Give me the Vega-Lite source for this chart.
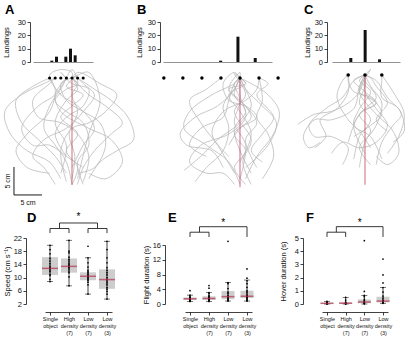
{
"$schema": "https://vega.github.io/schema/vega-lite/v6.json",
"padding": {"left": 2, "top": 4, "right": 0, "bottom": 0},
"background": "white",
"config": {
 "view": {"stroke": null},
 "font": "Liberation Sans",
 "axis": {"grid": false, "labelFont": "Liberation Sans", "titleFont": "Liberation Sans", "labelFontSize": 7.5, "titleFontSize": 7.5, "titleFontWeight": "normal", "labelColor": "#111", "titleColor": "#111", "domainColor": "#111", "tickColor": "#111", "tickSize": 3, "labelPadding": 1.5, "titlePadding": 3, "domainWidth": 0.8, "tickWidth": 0.8, "minExtent": 0, "labelOverlap": false, "labelFlush": false, "labelBound": false},
 "title": {"font": "Liberation Sans", "fontSize": 13, "fontWeight": "bold", "anchor": "start", "frame": "group", "color": "#000", "baseline": "alphabetic"}
},
"datasets": {
 "trajA": [
  {"t":"a1","x":0,"y":-19},{"t":"a1","x":-1,"y":-15},{"t":"a1","x":-3,"y":-12},{"t":"a1","x":-5,"y":-9},{"t":"a1","x":-4,"y":-5},{"t":"a1","x":-2,"y":-2},{"t":"a1","x":-1,"y":0},
  {"t":"a2","x":1,"y":-19},{"t":"a2","x":2,"y":-16},{"t":"a2","x":4,"y":-13},{"t":"a2","x":7,"y":-10},{"t":"a2","x":9,"y":-8},{"t":"a2","x":6,"y":-5},{"t":"a2","x":3,"y":-3},{"t":"a2","x":1,"y":-1},{"t":"a2","x":0,"y":0},
  {"t":"a3","x":-2,"y":-18},{"t":"a3","x":-4,"y":-15},{"t":"a3","x":-8,"y":-13},{"t":"a3","x":-11,"y":-10},{"t":"a3","x":-12,"y":-6},{"t":"a3","x":-9,"y":-3},{"t":"a3","x":-5,"y":-1},{"t":"a3","x":-3,"y":0},
  {"t":"a4","x":2,"y":-18.5},{"t":"a4","x":3,"y":-14},{"t":"a4","x":1,"y":-10},{"t":"a4","x":-2,"y":-8},{"t":"a4","x":-6,"y":-7},{"t":"a4","x":-7,"y":-4},{"t":"a4","x":-4,"y":-1},{"t":"a4","x":-3,"y":0},
  {"t":"a5","x":-1,"y":-17},{"t":"a5","x":-3,"y":-14},{"t":"a5","x":-6,"y":-11},{"t":"a5","x":-9,"y":-8},{"t":"a5","x":-10,"y":-4},{"t":"a5","x":-7,"y":-1.5},{"t":"a5","x":-4,"y":0},
  {"t":"a6","x":3,"y":-18},{"t":"a6","x":5,"y":-15},{"t":"a6","x":8,"y":-13},{"t":"a6","x":11,"y":-11},{"t":"a6","x":10,"y":-7},{"t":"a6","x":7,"y":-4},{"t":"a6","x":4,"y":-2},{"t":"a6","x":1,"y":0},
  {"t":"a7","x":0,"y":-18},{"t":"a7","x":0.5,"y":-14},{"t":"a7","x":-0.5,"y":-10},{"t":"a7","x":1,"y":-6},{"t":"a7","x":0,"y":-3},{"t":"a7","x":1,"y":-1},{"t":"a7","x":0,"y":0},
  {"t":"a8","x":-3,"y":-19},{"t":"a8","x":-5,"y":-16},{"t":"a8","x":-7,"y":-14},{"t":"a8","x":-5,"y":-11},{"t":"a8","x":-1,"y":-9},{"t":"a8","x":2,"y":-6},{"t":"a8","x":4,"y":-3},{"t":"a8","x":2,"y":-1},{"t":"a8","x":1,"y":0},
  {"t":"a9","x":1,"y":-17},{"t":"a9","x":4,"y":-16},{"t":"a9","x":6,"y":-12},{"t":"a9","x":5,"y":-8},{"t":"a9","x":2,"y":-6},{"t":"a9","x":-1,"y":-4},{"t":"a9","x":-2,"y":-1},{"t":"a9","x":0,"y":0},
  {"t":"a10","x":-1,"y":-18.5},{"t":"a10","x":-2,"y":-13},{"t":"a10","x":0,"y":-9},{"t":"a10","x":3,"y":-8},{"t":"a10","x":6,"y":-6},{"t":"a10","x":8,"y":-3},{"t":"a10","x":5,"y":-1},{"t":"a10","x":1,"y":1},{"t":"a10","x":0,"y":0},
  {"t":"a11","x":2,"y":-16},{"t":"a11","x":-1,"y":-14},{"t":"a11","x":-4,"y":-12},{"t":"a11","x":-7,"y":-12},{"t":"a11","x":-9,"y":-9},{"t":"a11","x":-6,"y":-5},{"t":"a11","x":-3,"y":-3},{"t":"a11","x":-1,"y":0},
  {"t":"a12","x":0,"y":-16},{"t":"a12","x":2,"y":-12},{"t":"a12","x":4,"y":-9},{"t":"a12","x":1,"y":-5},{"t":"a12","x":-2,"y":-3},{"t":"a12","x":-4,"y":0.5},{"t":"a12","x":-2,"y":1.5},{"t":"a12","x":0,"y":1},{"t":"a12","x":0,"y":0},
  {"t":"a13","x":-2,"y":-17},{"t":"a13","x":-1,"y":-12},{"t":"a13","x":-3,"y":-8},{"t":"a13","x":-1,"y":-4},{"t":"a13","x":1,"y":-2},{"t":"a13","x":0,"y":0},
  {"t":"a14","x":1,"y":-18},{"t":"a14","x":3,"y":-10},{"t":"a14","x":5,"y":-4},{"t":"a14","x":3,"y":1},{"t":"a14","x":1,"y":0.5},{"t":"a14","x":0,"y":0},
  {"t":"a15","x":-4,"y":-17},{"t":"a15","x":-8,"y":-16},{"t":"a15","x":-10,"y":-13},{"t":"a15","x":-8,"y":-10},{"t":"a15","x":-4,"y":-6},{"t":"a15","x":-3,"y":-2},{"t":"a15","x":-4,"y":0},
  {"t":"a16","x":3,"y":-17},{"t":"a16","x":6,"y":-18},{"t":"a16","x":9,"y":-15},{"t":"a16","x":7,"y":-11},{"t":"a16","x":3,"y":-9},{"t":"a16","x":-2,"y":-6},{"t":"a16","x":-3,"y":-3},{"t":"a16","x":-1,"y":0},
  {"t":"a17","x":0,"y":-19},{"t":"a17","x":1,"y":-16},{"t":"a17","x":-1,"y":-13},{"t":"a17","x":1,"y":-10},{"t":"a17","x":-2,"y":-7},{"t":"a17","x":0,"y":-5},{"t":"a17","x":2,"y":-3},{"t":"a17","x":-1,"y":-1.5},{"t":"a17","x":1,"y":0.5},{"t":"a17","x":0,"y":0},
  {"t":"a18","x":-1,"y":-14},{"t":"a18","x":-3,"y":-10},{"t":"a18","x":-1,"y":-7},{"t":"a18","x":2,"y":-5},{"t":"a18","x":3,"y":-2},{"t":"a18","x":0,"y":-1},{"t":"a18","x":-2,"y":1},{"t":"a18","x":-1,"y":0},
  {"t":"a19","x":2,"y":-19},{"t":"a19","x":1,"y":-15},{"t":"a19","x":3,"y":-12},{"t":"a19","x":2,"y":-8},{"t":"a19","x":-1,"y":-6},{"t":"a19","x":-3,"y":-4},{"t":"a19","x":-1,"y":-2},{"t":"a19","x":1,"y":-1},{"t":"a19","x":0,"y":1.5},{"t":"a19","x":-1,"y":0}
 ],
 "trajB": [
  {"t":"b1","x":0,"y":-19},{"t":"b1","x":-2,"y":-15},{"t":"b1","x":-6,"y":-12},{"t":"b1","x":-10,"y":-9},{"t":"b1","x":-9,"y":-6},{"t":"b1","x":-5,"y":-3},{"t":"b1","x":-1,"y":-1},{"t":"b1","x":0,"y":0},
  {"t":"b2","x":1,"y":-18},{"t":"b2","x":3,"y":-14},{"t":"b2","x":6,"y":-10},{"t":"b2","x":7,"y":-6},{"t":"b2","x":5,"y":-3},{"t":"b2","x":2,"y":-1},{"t":"b2","x":0,"y":0},
  {"t":"b3","x":-8,"y":-18.5},{"t":"b3","x":-6,"y":-16},{"t":"b3","x":-3,"y":-13},{"t":"b3","x":-2,"y":-9},{"t":"b3","x":-3,"y":-5},{"t":"b3","x":-1,"y":-2},{"t":"b3","x":0,"y":0},
  {"t":"b4","x":-10,"y":-16.5},{"t":"b4","x":-7,"y":-14},{"t":"b4","x":-4,"y":-11},{"t":"b4","x":0,"y":-8},{"t":"b4","x":2,"y":-5},{"t":"b4","x":1,"y":-2},{"t":"b4","x":0,"y":0},
  {"t":"b5","x":2,"y":-17},{"t":"b5","x":0,"y":-13},{"t":"b5","x":-1,"y":-9},{"t":"b5","x":1,"y":-6},{"t":"b5","x":-1,"y":-3},{"t":"b5","x":0,"y":0},
  {"t":"b6","x":4,"y":-18},{"t":"b6","x":6,"y":-14},{"t":"b6","x":5,"y":-10},{"t":"b6","x":3,"y":-7},{"t":"b6","x":4,"y":-4},{"t":"b6","x":3.4,"y":0},
  {"t":"b7","x":-1,"y":-17},{"t":"b7","x":-4,"y":-12},{"t":"b7","x":-7,"y":-8},{"t":"b7","x":-9,"y":-4},{"t":"b7","x":-6,"y":-2},{"t":"b7","x":-3.4,"y":0},
  {"t":"b8","x":0,"y":-18},{"t":"b8","x":1,"y":-12},{"t":"b8","x":-1,"y":-8},{"t":"b8","x":0,"y":-4},{"t":"b8","x":-1,"y":-1},{"t":"b8","x":0,"y":0},
  {"t":"b9","x":-3,"y":-16},{"t":"b9","x":-5,"y":-13},{"t":"b9","x":-9.5,"y":-12},{"t":"b9","x":-10.7,"y":-10},{"t":"b9","x":-8,"y":-7},{"t":"b9","x":-4,"y":-5},{"t":"b9","x":-1,"y":-2},{"t":"b9","x":0,"y":0},
  {"t":"b10","x":1,"y":-16},{"t":"b10","x":5,"y":-12},{"t":"b10","x":6.5,"y":-8},{"t":"b10","x":4,"y":-5},{"t":"b10","x":1,"y":-2},{"t":"b10","x":0,"y":0},
  {"t":"b11","x":-2,"y":-14},{"t":"b11","x":-5,"y":-10},{"t":"b11","x":-3,"y":-6},{"t":"b11","x":1,"y":-4},{"t":"b11","x":3,"y":-2},{"t":"b11","x":3.4,"y":0},
  {"t":"b12","x":0,"y":-15},{"t":"b12","x":2,"y":-10},{"t":"b12","x":0,"y":-6},{"t":"b12","x":-2,"y":-3},{"t":"b12","x":1,"y":-1},{"t":"b12","x":0,"y":0},
  {"t":"b13","x":-6,"y":-14},{"t":"b13","x":-9,"y":-12},{"t":"b13","x":-7,"y":-9},{"t":"b13","x":-3,"y":-7},{"t":"b13","x":-2,"y":-4},{"t":"b13","x":-1,"y":-1},{"t":"b13","x":0,"y":0},
  {"t":"b14","x":3,"y":-16},{"t":"b14","x":1,"y":-11},{"t":"b14","x":3,"y":-8},{"t":"b14","x":1,"y":-5},{"t":"b14","x":-2,"y":-2},{"t":"b14","x":0,"y":1},{"t":"b14","x":0,"y":0},
  {"t":"b15","x":-1,"y":-19},{"t":"b15","x":-3,"y":-17},{"t":"b15","x":-6,"y":-17},{"t":"b15","x":-9,"y":-15},{"t":"b15","x":-7,"y":-12},{"t":"b15","x":-2,"y":-10},{"t":"b15","x":1,"y":-7},{"t":"b15","x":0,"y":-3},{"t":"b15","x":0,"y":0},
  {"t":"b16","x":2,"y":-19},{"t":"b16","x":0.5,"y":-15},{"t":"b16","x":2,"y":-11},{"t":"b16","x":-1,"y":-6},{"t":"b16","x":1,"y":-3},{"t":"b16","x":-1,"y":0.8},{"t":"b16","x":0,"y":0},
  {"t":"b17","x":1,"y":-19},{"t":"b17","x":-1,"y":-16},{"t":"b17","x":1,"y":-13},{"t":"b17","x":-1,"y":-10},{"t":"b17","x":2,"y":-7},{"t":"b17","x":0,"y":-4},{"t":"b17","x":-2,"y":-2},{"t":"b17","x":1,"y":-1},{"t":"b17","x":0,"y":0},
  {"t":"b18","x":-2,"y":-12},{"t":"b18","x":0,"y":-9},{"t":"b18","x":3,"y":-7},{"t":"b18","x":1,"y":-5},{"t":"b18","x":-2,"y":-4},{"t":"b18","x":-3,"y":-1},{"t":"b18","x":-1,"y":1},{"t":"b18","x":0,"y":0},
  {"t":"b19","x":4,"y":-15},{"t":"b19","x":2,"y":-13},{"t":"b19","x":4,"y":-10},{"t":"b19","x":6,"y":-7},{"t":"b19","x":3,"y":-3},{"t":"b19","x":5,"y":-1},{"t":"b19","x":3.4,"y":0}
 ],
 "trajC": [
  {"t":"c1","x":-12,"y":-8.8},{"t":"c1","x":-9,"y":-7},{"t":"c1","x":-6,"y":-6.5},{"t":"c1","x":-3,"y":-5},{"t":"c1","x":-1,"y":-3},{"t":"c1","x":0,"y":0},
  {"t":"c2","x":-9,"y":-13},{"t":"c2","x":-7,"y":-11},{"t":"c2","x":-8,"y":-8},{"t":"c2","x":-5,"y":-6},{"t":"c2","x":-3,"y":-3},{"t":"c2","x":-3,"y":0},
  {"t":"c3","x":2,"y":-16},{"t":"c3","x":3,"y":-12},{"t":"c3","x":5,"y":-9},{"t":"c3","x":6.5,"y":-7},{"t":"c3","x":4,"y":-4},{"t":"c3","x":2,"y":-1},{"t":"c3","x":0,"y":0},
  {"t":"c4","x":-2,"y":-15},{"t":"c4","x":-1,"y":-11},{"t":"c4","x":1,"y":-8},{"t":"c4","x":-1,"y":-5},{"t":"c4","x":0,"y":-2},{"t":"c4","x":0,"y":0},
  {"t":"c5","x":4,"y":-14},{"t":"c5","x":6,"y":-11},{"t":"c5","x":7,"y":-7},{"t":"c5","x":5,"y":-3},{"t":"c5","x":3,"y":0},
  {"t":"c6","x":-4,"y":-16},{"t":"c6","x":-3,"y":-13},{"t":"c6","x":-6,"y":-11},{"t":"c6","x":-9,"y":-11},{"t":"c6","x":-10,"y":-9},{"t":"c6","x":-7,"y":-6},{"t":"c6","x":-4,"y":-4},{"t":"c6","x":-2,"y":-1},{"t":"c6","x":0,"y":0},
  {"t":"c7","x":1,"y":-13},{"t":"c7","x":-1,"y":-10},{"t":"c7","x":-3,"y":-8},{"t":"c7","x":-5,"y":-4},{"t":"c7","x":-4,"y":-1},{"t":"c7","x":-3,"y":0},
  {"t":"c8","x":-1,"y":-16.5},{"t":"c8","x":0,"y":-12},{"t":"c8","x":2,"y":-9},{"t":"c8","x":3,"y":-5},{"t":"c8","x":1,"y":-2},{"t":"c8","x":0,"y":0},
  {"t":"c9","x":3,"y":-15},{"t":"c9","x":1,"y":-11},{"t":"c9","x":-2,"y":-9},{"t":"c9","x":-1,"y":-6},{"t":"c9","x":1,"y":-3},{"t":"c9","x":-1,"y":-1},{"t":"c9","x":0,"y":0},
  {"t":"c10","x":-6,"y":-14},{"t":"c10","x":-4,"y":-12},{"t":"c10","x":-1,"y":-13},{"t":"c10","x":2,"y":-12},{"t":"c10","x":4,"y":-9},{"t":"c10","x":2,"y":-6},{"t":"c10","x":0,"y":-3},{"t":"c10","x":0,"y":0},
  {"t":"c11","x":5,"y":-12},{"t":"c11","x":7,"y":-10},{"t":"c11","x":6,"y":-6},{"t":"c11","x":3,"y":-4},{"t":"c11","x":3,"y":-1},{"t":"c11","x":3,"y":0},
  {"t":"c12","x":-8,"y":-12},{"t":"c12","x":-10,"y":-13},{"t":"c12","x":-11,"y":-11},{"t":"c12","x":-9,"y":-8},{"t":"c12","x":-6,"y":-8},{"t":"c12","x":-2,"y":-6},{"t":"c12","x":-1,"y":-2},{"t":"c12","x":0,"y":0},
  {"t":"c13","x":0,"y":-14},{"t":"c13","x":-2,"y":-9},{"t":"c13","x":0,"y":-6},{"t":"c13","x":2,"y":-4},{"t":"c13","x":0,"y":-1},{"t":"c13","x":0,"y":0},
  {"t":"c14","x":2,"y":-14.5},{"t":"c14","x":4,"y":-16},{"t":"c14","x":6,"y":-14},{"t":"c14","x":5,"y":-10},{"t":"c14","x":2,"y":-7},{"t":"c14","x":-1,"y":-3},{"t":"c14","x":0,"y":0},
  {"t":"c15","x":-3,"y":-12},{"t":"c15","x":-1,"y":-7},{"t":"c15","x":2,"y":-5},{"t":"c15","x":-1,"y":-3},{"t":"c15","x":1,"y":1},{"t":"c15","x":0,"y":0},
  {"t":"c16","x":1,"y":-16},{"t":"c16","x":-1,"y":-13},{"t":"c16","x":1,"y":-10},{"t":"c16","x":-1,"y":-7},{"t":"c16","x":2,"y":-5},{"t":"c16","x":0,"y":-3},{"t":"c16","x":-2,"y":-1},{"t":"c16","x":0,"y":0},
  {"t":"c17","x":-2,"y":-11},{"t":"c17","x":1,"y":-9},{"t":"c17","x":3,"y":-7},{"t":"c17","x":1,"y":-4},{"t":"c17","x":-2,"y":-3},{"t":"c17","x":-3,"y":-1},{"t":"c17","x":-3,"y":0},
  {"t":"c18","x":4,"y":-10},{"t":"c18","x":2,"y":-8},{"t":"c18","x":4,"y":-5},{"t":"c18","x":2,"y":-2},{"t":"c18","x":1,"y":-0.5},{"t":"c18","x":0,"y":0}
 ],
 "boxD": [
  {"c":1,"lo":8.8,"q1":10.8,"med":12.8,"q3":16.2,"hi":19.8},
  {"c":2,"lo":7.5,"q1":11.5,"med":13.4,"q3":15.8,"hi":21.3},
  {"c":3,"lo":5.0,"q1":9.2,"med":10.4,"q3":11.6,"hi":16.0},
  {"c":4,"lo":3.5,"q1":6.6,"med":9.4,"q3":12.5,"hi":21.0}
 ],
 "ptsD": [
  {"c":1,"v":8.8},{"c":1,"v":9.5},{"c":1,"v":10.6},{"c":1,"v":11.0},{"c":1,"v":11.8},{"c":1,"v":12.3},{"c":1,"v":12.7},{"c":1,"v":13.0},{"c":1,"v":13.5},{"c":1,"v":14.2},{"c":1,"v":15.0},{"c":1,"v":15.8},{"c":1,"v":17.2},{"c":1,"v":18.5},{"c":1,"v":19.8},
  {"c":2,"v":7.5},{"c":2,"v":10.2},{"c":2,"v":11.5},{"c":2,"v":12.0},{"c":2,"v":12.6},{"c":2,"v":13.0},{"c":2,"v":13.3},{"c":2,"v":13.6},{"c":2,"v":14.0},{"c":2,"v":14.4},{"c":2,"v":15.0},{"c":2,"v":15.5},{"c":2,"v":16.2},{"c":2,"v":17.5},{"c":2,"v":18.0},{"c":2,"v":21.3},
  {"c":3,"v":5.0},{"c":3,"v":7.8},{"c":3,"v":8.6},{"c":3,"v":9.2},{"c":3,"v":9.6},{"c":3,"v":10.0},{"c":3,"v":10.3},{"c":3,"v":10.6},{"c":3,"v":11.0},{"c":3,"v":11.4},{"c":3,"v":11.8},{"c":3,"v":12.3},{"c":3,"v":13.2},{"c":3,"v":14.5},{"c":3,"v":16.0},{"c":3,"v":19.5},
  {"c":4,"v":3.5},{"c":4,"v":5.0},{"c":4,"v":5.8},{"c":4,"v":6.5},{"c":4,"v":7.0},{"c":4,"v":7.8},{"c":4,"v":8.4},{"c":4,"v":9.0},{"c":4,"v":9.5},{"c":4,"v":10.0},{"c":4,"v":10.8},{"c":4,"v":11.5},{"c":4,"v":12.2},{"c":4,"v":13.0},{"c":4,"v":14.5},{"c":4,"v":16.0},{"c":4,"v":18.5},{"c":4,"v":21.0}
 ],
 "brD": [
  {"c":1,"c2":2,"y":24.88,"y2":24.88},{"c":3,"c2":4,"y":24.88,"y2":24.88},{"c":1.5,"c2":3.5,"y":26.55,"y2":26.55},
  {"c":1.5,"c2":1.5,"y":24.88,"y2":26.55},{"c":3.5,"c2":3.5,"y":24.88,"y2":26.55},
  {"c":1,"c2":1,"y":23.5,"y2":24.88},{"c":2,"c2":2,"y":23.5,"y2":24.88},{"c":3,"c2":3,"y":23.5,"y2":24.88},{"c":4,"c2":4,"y":23.5,"y2":24.88}
 ],
 "boxE": [
  {"c":1,"lo":0.7,"q1":1.1,"med":1.4,"q3":1.8,"hi":2.4},
  {"c":2,"lo":0.7,"q1":1.1,"med":1.5,"q3":2.1,"hi":3.1},
  {"c":3,"lo":0.8,"q1":1.3,"med":2.0,"q3":3.5,"hi":5.8},
  {"c":4,"lo":0.8,"q1":1.6,"med":2.1,"q3":3.6,"hi":6.5}
 ],
 "ptsE": [
  {"c":1,"v":0.7},{"c":1,"v":0.9},{"c":1,"v":1.0},{"c":1,"v":1.1},{"c":1,"v":1.2},{"c":1,"v":1.3},{"c":1,"v":1.4},{"c":1,"v":1.5},{"c":1,"v":1.6},{"c":1,"v":1.8},{"c":1,"v":2.0},{"c":1,"v":2.4},{"c":1,"v":3.6},
  {"c":2,"v":0.7},{"c":2,"v":0.9},{"c":2,"v":1.1},{"c":2,"v":1.2},{"c":2,"v":1.4},{"c":2,"v":1.5},{"c":2,"v":1.6},{"c":2,"v":1.8},{"c":2,"v":2.0},{"c":2,"v":2.3},{"c":2,"v":2.8},{"c":2,"v":3.1},{"c":2,"v":4.3},{"c":2,"v":5.0},
  {"c":3,"v":0.8},{"c":3,"v":1.0},{"c":3,"v":1.2},{"c":3,"v":1.4},{"c":3,"v":1.7},{"c":3,"v":2.0},{"c":3,"v":2.3},{"c":3,"v":2.8},{"c":3,"v":3.2},{"c":3,"v":4.2},{"c":3,"v":5.5},{"c":3,"v":5.8},{"c":3,"v":17.0},
  {"c":4,"v":0.8},{"c":4,"v":1.0},{"c":4,"v":1.2},{"c":4,"v":1.5},{"c":4,"v":1.8},{"c":4,"v":2.0},{"c":4,"v":2.1},{"c":4,"v":2.3},{"c":4,"v":2.7},{"c":4,"v":3.2},{"c":4,"v":3.6},{"c":4,"v":4.5},{"c":4,"v":5.5},{"c":4,"v":6.3},{"c":4,"v":7.0},{"c":4,"v":9.5}
 ],
 "brE": [
  {"c":1,"c2":2,"y":19.47,"y2":19.47},{"c":1.5,"c2":4,"y":20.96,"y2":20.96},
  {"c":1.5,"c2":1.5,"y":19.47,"y2":20.96},{"c":4,"c2":4,"y":18.17,"y2":20.96},
  {"c":1,"c2":1,"y":18.17,"y2":19.47},{"c":2,"c2":2,"y":18.17,"y2":19.47}
 ],
 "boxF": [
  {"c":1,"lo":0,"q1":0.02,"med":0.05,"q3":0.1,"hi":0.2},
  {"c":2,"lo":0,"q1":0.02,"med":0.06,"q3":0.12,"hi":0.5},
  {"c":3,"lo":0,"q1":0.06,"med":0.15,"q3":0.35,"hi":0.65},
  {"c":4,"lo":0.05,"q1":0.12,"med":0.22,"q3":0.55,"hi":1.25}
 ],
 "ptsF": [
  {"c":1,"v":0.0},{"c":1,"v":0.02},{"c":1,"v":0.03},{"c":1,"v":0.05},{"c":1,"v":0.06},{"c":1,"v":0.08},{"c":1,"v":0.1},{"c":1,"v":0.12},{"c":1,"v":0.2},
  {"c":2,"v":0.0},{"c":2,"v":0.02},{"c":2,"v":0.04},{"c":2,"v":0.05},{"c":2,"v":0.07},{"c":2,"v":0.1},{"c":2,"v":0.15},{"c":2,"v":0.3},{"c":2,"v":0.5},
  {"c":3,"v":0.0},{"c":3,"v":0.05},{"c":3,"v":0.08},{"c":3,"v":0.1},{"c":3,"v":0.15},{"c":3,"v":0.2},{"c":3,"v":0.25},{"c":3,"v":0.35},{"c":3,"v":0.55},{"c":3,"v":0.65},{"c":3,"v":0.95},{"c":3,"v":4.8},
  {"c":4,"v":0.05},{"c":4,"v":0.1},{"c":4,"v":0.15},{"c":4,"v":0.2},{"c":4,"v":0.25},{"c":4,"v":0.3},{"c":4,"v":0.45},{"c":4,"v":0.6},{"c":4,"v":0.9},{"c":4,"v":1.25},{"c":4,"v":1.6},{"c":4,"v":2.2},{"c":4,"v":3.4}
 ],
 "brF": [
  {"c":1,"c2":2,"y":5.44,"y2":5.44},{"c":1.5,"c2":4,"y":5.86,"y2":5.86},
  {"c":1.5,"c2":1.5,"y":5.44,"y2":5.86},{"c":4,"c2":4,"y":5.08,"y2":5.86},
  {"c":1,"c2":1,"y":5.08,"y2":5.44},{"c":2,"c2":2,"y":5.08,"y2":5.44}
 ]
},
"columns": 3,
"spacing": {"row": 4, "column": 20},
"bounds": "flush",
"concat": [
 {
  "width": 110, "height": 40,
  "title": {"text": "A", "dx": -28, "offset": 1},
  "data": {"values": [{"x":-4,"n":1},{"x":-3,"n":4},{"x":-1,"n":4},{"x":0,"n":10},{"x":1,"n":5}]},
  "mark": {"type": "bar", "width": 3, "color": "#111"},
  "encoding": {
   "x": {"field": "x", "type": "quantitative", "scale": {"domain": [-6.964, 3.75], "range": [0, 60], "nice": false, "zero": false}, "axis": {"ticks": false, "labels": false, "title": null, "domainColor": "#777"}},
   "y": {"field": "n", "type": "quantitative", "scale": {"domain": [0, 30], "nice": false}, "axis": {"values": [0, 10, 20, 30], "title": "Landings", "offset": 3, "titlePadding": 7}}
  }
 },
 {
  "width": 149, "height": 40,
  "title": {"text": "B", "dx": -26, "offset": 1},
  "data": {"values": [{"x":-3.4,"n":1},{"x":0,"n":19},{"x":3.4,"n":3}]},
  "mark": {"type": "bar", "width": 3, "color": "#111"},
  "encoding": {
   "x": {"field": "x", "type": "quantitative", "scale": {"domain": [-13.75, 5.714], "range": [0, 109], "nice": false, "zero": false}, "axis": {"ticks": false, "labels": false, "title": null, "domainColor": "#777"}},
   "y": {"field": "n", "type": "quantitative", "scale": {"domain": [0, 30], "nice": false}, "axis": {"values": [0, 10, 20, 30], "title": "Landings", "offset": 3, "titlePadding": 4}}
  }
 },
 {
  "width": 73, "height": 40,
  "title": {"text": "C", "dx": -28, "offset": 1},
  "data": {"values": [{"x":-3,"n":3},{"x":0,"n":24},{"x":3,"n":2}]},
  "mark": {"type": "bar", "width": 3, "color": "#111"},
  "encoding": {
   "x": {"field": "x", "type": "quantitative", "scale": {"domain": [-5.893, 6.25], "range": [0, 68], "nice": false, "zero": false}, "axis": {"ticks": false, "labels": false, "title": null, "domainColor": "#777"}},
   "y": {"field": "n", "type": "quantitative", "scale": {"domain": [0, 30], "nice": false}, "axis": {"values": [0, 10, 20, 30], "title": "Landings", "offset": 5, "titlePadding": 3}}
  }
 },
 {
  "width": 110, "height": 168,
  "encoding": {
   "x": {"field": "x", "type": "quantitative", "scale": {"domain": [-6.964, 12.679], "nice": false, "zero": false}, "axis": null},
   "y": {"field": "y", "type": "quantitative", "scale": {"domain": [-27.86, 2.14], "nice": false, "zero": false}, "axis": null}
  },
  "layer": [
   {"data": {"name": "trajA"}, "mark": {"type": "line", "interpolate": "catmull-rom", "stroke": "#bababa", "strokeWidth": 0.8}, "encoding": {"detail": {"field": "t"}, "order": {"value": null}}},
   {"data": {"values": [{"x":0,"y":0,"y2":-19.1}]}, "mark": {"type": "rule", "stroke": "#c24a63", "strokeWidth": 1, "opacity": 0.8}, "encoding": {"y2": {"field": "y2"}}},
   {"data": {"values": [{"x":-4,"y":0},{"x":-3,"y":0},{"x":-2,"y":0},{"x":-1,"y":0},{"x":0,"y":0},{"x":1,"y":0},{"x":2,"y":0}]}, "mark": {"type": "circle", "size": 10, "fill": "#000", "opacity": 1}},
   {"data": {"values": [{"x":-10.36,"y":-20.89,"x2":-10.36,"y2":-15.89},{"x":-10.36,"y":-20.89,"x2":-5.36,"y2":-20.89}]}, "mark": {"type": "rule", "stroke": "#000", "strokeWidth": 0.9}, "encoding": {"x2": {"field": "x2"}, "y2": {"field": "y2"}}},
   {"data": {"values": [{"x":-7.86,"y":-22.4,"label":"5 cm"}]}, "mark": {"type": "text", "fontSize": 7, "font": "Liberation Sans", "baseline": "middle", "align": "center", "fill": "#111"}, "encoding": {"text": {"field": "label"}}},
   {"data": {"values": [{"x":-11.45,"y":-18.4,"label":"5 cm"}]}, "mark": {"type": "text", "fontSize": 7, "font": "Liberation Sans", "baseline": "middle", "align": "center", "angle": 270, "fill": "#111"}, "encoding": {"text": {"field": "label"}}}
  ]
 },
 {
  "width": 149, "height": 168,
  "encoding": {
   "x": {"field": "x", "type": "quantitative", "scale": {"domain": [-13.75, 12.857], "nice": false, "zero": false}, "axis": null},
   "y": {"field": "y", "type": "quantitative", "scale": {"domain": [-27.86, 2.14], "nice": false, "zero": false}, "axis": null}
  },
  "layer": [
   {"data": {"name": "trajB"}, "mark": {"type": "line", "interpolate": "catmull-rom", "stroke": "#bababa", "strokeWidth": 0.8}, "encoding": {"detail": {"field": "t"}, "order": {"value": null}}},
   {"data": {"values": [{"x":0,"y":0,"y2":-19.5}]}, "mark": {"type": "rule", "stroke": "#c24a63", "strokeWidth": 1, "opacity": 0.8}, "encoding": {"y2": {"field": "y2"}}},
   {"data": {"values": [{"x":-13.6,"y":0},{"x":-10.2,"y":0},{"x":-6.8,"y":0},{"x":-3.4,"y":0},{"x":0,"y":0},{"x":3.4,"y":0},{"x":6.8,"y":0}]}, "mark": {"type": "circle", "size": 12, "fill": "#000", "opacity": 1}}
  ]
 },
 {
  "width": 73, "height": 168,
  "encoding": {
   "x": {"field": "x", "type": "quantitative", "scale": {"domain": [-5.893, 7.143], "nice": false, "zero": false}, "axis": null},
   "y": {"field": "y", "type": "quantitative", "scale": {"domain": [-28.39, 1.607], "nice": false, "zero": false}, "axis": null}
  },
  "layer": [
   {"data": {"name": "trajC"}, "mark": {"type": "line", "interpolate": "catmull-rom", "stroke": "#bababa", "strokeWidth": 0.8}, "encoding": {"detail": {"field": "t"}, "order": {"value": null}}},
   {"data": {"values": [{"x":0,"y":0,"y2":-19.6}]}, "mark": {"type": "rule", "stroke": "#c24a63", "strokeWidth": 1, "opacity": 0.8}, "encoding": {"y2": {"field": "y2"}}},
   {"data": {"values": [{"x":-3,"y":0},{"x":0,"y":0},{"x":3,"y":0}]}, "mark": {"type": "circle", "size": 13, "fill": "#000", "opacity": 1}}
  ]
 },
 {
  "width": 110, "height": 66,
  "title": {"text": "D", "dx": -6, "offset": -13},
  "encoding": {
   "x": {"field": "c", "type": "quantitative", "scale": {"domain": [1, 4], "range": [12, 79], "nice": false, "zero": false},
    "axis": {"values": [1, 2, 3, 4], "offset": 8, "title": null, "labelFontSize": 5.5, "labelLineHeight": 7, "labelPadding": 1, "labelBaseline": "top",
     "labelExpr": "datum.value == 1 ? ['Single','object'] : datum.value == 2 ? ['High','density','(7)'] : datum.value == 3 ? ['Low','density','(7)'] : ['Low','density','(3)']"}}
  },
  "layer": [
   {"data": {"name": "boxD"}, "mark": {"type": "bar", "width": 16, "color": "#cdcdcd"}, "encoding": {"y": {"field": "q1", "type": "quantitative", "title": "Speed (cm s⁻¹)", "scale": {"domain": [2, 22], "nice": false, "zero": false}, "axis": {"values": [2, 6, 10, 14, 18, 22], "offset": 7, "titlePadding": 1.5, "labelOverlap": false}}, "y2": {"field": "q3"}}},
   {"data": {"name": "boxD"}, "mark": {"type": "rule", "color": "#111", "strokeWidth": 0.8}, "encoding": {"y": {"field": "lo", "type": "quantitative", "title": "Speed (cm s⁻¹)", "axis": {"values": [2, 6, 10, 14, 18, 22], "offset": 7, "titlePadding": 1.5, "labelOverlap": false}}, "y2": {"field": "hi"}}},
   {"data": {"name": "boxD"}, "mark": {"type": "tick", "orient": "horizontal", "size": 6, "thickness": 0.8, "color": "#111"}, "encoding": {"y": {"field": "lo", "type": "quantitative", "title": "Speed (cm s⁻¹)", "axis": {"values": [2, 6, 10, 14, 18, 22], "offset": 7, "titlePadding": 1.5, "labelOverlap": false}}}},
   {"data": {"name": "boxD"}, "mark": {"type": "tick", "orient": "horizontal", "size": 6, "thickness": 0.8, "color": "#111"}, "encoding": {"y": {"field": "hi", "type": "quantitative", "title": "Speed (cm s⁻¹)", "axis": {"values": [2, 6, 10, 14, 18, 22], "offset": 7, "titlePadding": 1.5, "labelOverlap": false}}}},
   {"data": {"name": "ptsD"}, "mark": {"type": "circle", "size": 3, "fill": "#000", "opacity": 1}, "encoding": {"y": {"field": "v", "type": "quantitative", "title": "Speed (cm s⁻¹)", "axis": {"values": [2, 6, 10, 14, 18, 22], "offset": 7, "titlePadding": 1.5, "labelOverlap": false}}}},
   {"data": {"name": "boxD"}, "mark": {"type": "tick", "orient": "horizontal", "size": 16, "thickness": 1.5, "color": "#b3314d"}, "encoding": {"y": {"field": "med", "type": "quantitative", "title": "Speed (cm s⁻¹)", "axis": {"values": [2, 6, 10, 14, 18, 22], "offset": 7, "titlePadding": 1.5, "labelOverlap": false}}}},
   {"data": {"name": "brD"}, "mark": {"type": "rule", "color": "#222", "strokeWidth": 0.9}, "encoding": {"x2": {"field": "c2"}, "y": {"field": "y", "type": "quantitative", "title": "Speed (cm s⁻¹)", "axis": {"values": [2, 6, 10, 14, 18, 22], "offset": 7, "titlePadding": 1.5, "labelOverlap": false}}, "y2": {"field": "y2"}}},
   {"data": {"values": [{"c": 2.5, "y": 28.97}]}, "mark": {"type": "text", "text": "*", "fontSize": 10, "font": "Liberation Sans", "baseline": "middle", "dy": 2, "fill": "#000"}, "encoding": {"y": {"field": "y", "type": "quantitative", "title": "Speed (cm s⁻¹)", "axis": {"values": [2, 6, 10, 14, 18, 22], "offset": 7, "titlePadding": 1.5, "labelOverlap": false}}}}
  ]
 },
 {
  "width": 149, "height": 66,
  "title": {"text": "E", "dx": 5, "offset": -7},
  "encoding": {
   "x": {"field": "c", "type": "quantitative", "scale": {"domain": [1, 4], "range": [22, 89], "nice": false, "zero": false},
    "axis": {"values": [1, 2, 3, 4], "offset": 8, "title": null, "labelFontSize": 5.5, "labelLineHeight": 7, "labelPadding": 1, "labelBaseline": "top",
     "labelExpr": "datum.value == 1 ? ['Single','object'] : datum.value == 2 ? ['High','density','(7)'] : datum.value == 3 ? ['Low','density','(7)'] : ['Low','density','(3)']"}}
  },
  "layer": [
   {"data": {"name": "boxE"}, "mark": {"type": "bar", "width": 13, "color": "#cdcdcd"}, "encoding": {"y": {"field": "q1", "type": "quantitative", "title": "Flight duration (s)", "scale": {"domain": [0, 16], "range": [66, 7], "nice": false, "zero": false}, "axis": {"values": [0, 4, 8, 12, 16], "offset": -2, "titlePadding": 2, "labelOverlap": false}}, "y2": {"field": "q3"}}},
   {"data": {"name": "boxE"}, "mark": {"type": "rule", "color": "#111", "strokeWidth": 0.8}, "encoding": {"y": {"field": "lo", "type": "quantitative", "title": "Flight duration (s)", "axis": {"values": [0, 4, 8, 12, 16], "offset": -2, "titlePadding": 2, "labelOverlap": false}}, "y2": {"field": "hi"}}},
   {"data": {"name": "boxE"}, "mark": {"type": "tick", "orient": "horizontal", "size": 6, "thickness": 0.8, "color": "#111"}, "encoding": {"y": {"field": "lo", "type": "quantitative", "title": "Flight duration (s)", "axis": {"values": [0, 4, 8, 12, 16], "offset": -2, "titlePadding": 2, "labelOverlap": false}}}},
   {"data": {"name": "boxE"}, "mark": {"type": "tick", "orient": "horizontal", "size": 6, "thickness": 0.8, "color": "#111"}, "encoding": {"y": {"field": "hi", "type": "quantitative", "title": "Flight duration (s)", "axis": {"values": [0, 4, 8, 12, 16], "offset": -2, "titlePadding": 2, "labelOverlap": false}}}},
   {"data": {"name": "ptsE"}, "mark": {"type": "circle", "size": 3, "fill": "#000", "opacity": 1}, "encoding": {"y": {"field": "v", "type": "quantitative", "title": "Flight duration (s)", "axis": {"values": [0, 4, 8, 12, 16], "offset": -2, "titlePadding": 2, "labelOverlap": false}}}},
   {"data": {"name": "boxE"}, "mark": {"type": "tick", "orient": "horizontal", "size": 13, "thickness": 1.5, "color": "#b3314d"}, "encoding": {"y": {"field": "med", "type": "quantitative", "title": "Flight duration (s)", "axis": {"values": [0, 4, 8, 12, 16], "offset": -2, "titlePadding": 2, "labelOverlap": false}}}},
   {"data": {"name": "brE"}, "mark": {"type": "rule", "color": "#222", "strokeWidth": 0.9}, "encoding": {"x2": {"field": "c2"}, "y": {"field": "y", "type": "quantitative", "title": "Flight duration (s)", "axis": {"values": [0, 4, 8, 12, 16], "offset": -2, "titlePadding": 2, "labelOverlap": false}}, "y2": {"field": "y2"}}},
   {"data": {"values": [{"c": 2.75, "y": 22.5}]}, "mark": {"type": "text", "text": "*", "fontSize": 10, "font": "Liberation Sans", "baseline": "middle", "dy": 2, "fill": "#000"}, "encoding": {"y": {"field": "y", "type": "quantitative", "title": "Flight duration (s)", "axis": {"values": [0, 4, 8, 12, 16], "offset": -2, "titlePadding": 2, "labelOverlap": false}}}}
  ]
 },
 {
  "width": 73, "height": 66,
  "title": {"text": "F", "dx": -26, "offset": -7},
  "encoding": {
   "x": {"field": "c", "type": "quantitative", "scale": {"domain": [1, 4], "range": [-10, 56], "nice": false, "zero": false},
    "axis": {"values": [1, 2, 3, 4], "offset": 8, "title": null, "labelFontSize": 5.5, "labelLineHeight": 7, "labelPadding": 1, "labelBaseline": "top",
     "labelExpr": "datum.value == 1 ? ['Single','object'] : datum.value == 2 ? ['High','density','(7)'] : datum.value == 3 ? ['Low','density','(7)'] : ['Low','density','(3)']"}}
  },
  "layer": [
   {"data": {"name": "boxF"}, "mark": {"type": "bar", "width": 13, "color": "#cdcdcd"}, "encoding": {"y": {"field": "q1", "type": "quantitative", "title": "Hover duration (s)", "scale": {"domain": [0, 5], "range": [66, 0], "nice": false, "zero": false}, "axis": {"values": [0, 1, 2, 3, 4, 5], "offset": 29, "titlePadding": 7, "labelOverlap": false}}, "y2": {"field": "q3"}}},
   {"data": {"name": "boxF"}, "mark": {"type": "rule", "color": "#111", "strokeWidth": 0.8}, "encoding": {"y": {"field": "lo", "type": "quantitative", "title": "Hover duration (s)", "axis": {"values": [0, 1, 2, 3, 4, 5], "offset": 29, "titlePadding": 7, "labelOverlap": false}}, "y2": {"field": "hi"}}},
   {"data": {"name": "boxF"}, "mark": {"type": "tick", "orient": "horizontal", "size": 6, "thickness": 0.8, "color": "#111"}, "encoding": {"y": {"field": "lo", "type": "quantitative", "title": "Hover duration (s)", "axis": {"values": [0, 1, 2, 3, 4, 5], "offset": 29, "titlePadding": 7, "labelOverlap": false}}}},
   {"data": {"name": "boxF"}, "mark": {"type": "tick", "orient": "horizontal", "size": 6, "thickness": 0.8, "color": "#111"}, "encoding": {"y": {"field": "hi", "type": "quantitative", "title": "Hover duration (s)", "axis": {"values": [0, 1, 2, 3, 4, 5], "offset": 29, "titlePadding": 7, "labelOverlap": false}}}},
   {"data": {"name": "ptsF"}, "mark": {"type": "circle", "size": 3, "fill": "#000", "opacity": 1}, "encoding": {"y": {"field": "v", "type": "quantitative", "title": "Hover duration (s)", "axis": {"values": [0, 1, 2, 3, 4, 5], "offset": 29, "titlePadding": 7, "labelOverlap": false}}}},
   {"data": {"name": "boxF"}, "mark": {"type": "tick", "orient": "horizontal", "size": 13, "thickness": 1.5, "color": "#b3314d"}, "encoding": {"y": {"field": "med", "type": "quantitative", "title": "Hover duration (s)", "axis": {"values": [0, 1, 2, 3, 4, 5], "offset": 29, "titlePadding": 7, "labelOverlap": false}}}},
   {"data": {"name": "brF"}, "mark": {"type": "rule", "color": "#222", "strokeWidth": 0.9}, "encoding": {"x2": {"field": "c2"}, "y": {"field": "y", "type": "quantitative", "title": "Hover duration (s)", "axis": {"values": [0, 1, 2, 3, 4, 5], "offset": 29, "titlePadding": 7, "labelOverlap": false}}, "y2": {"field": "y2"}}},
   {"data": {"values": [{"c": 2.75, "y": 6.29}]}, "mark": {"type": "text", "text": "*", "fontSize": 10, "font": "Liberation Sans", "baseline": "middle", "dy": 2, "fill": "#000"}, "encoding": {"y": {"field": "y", "type": "quantitative", "title": "Hover duration (s)", "axis": {"values": [0, 1, 2, 3, 4, 5], "offset": 29, "titlePadding": 7, "labelOverlap": false}}}}
  ]
 }
]
}
